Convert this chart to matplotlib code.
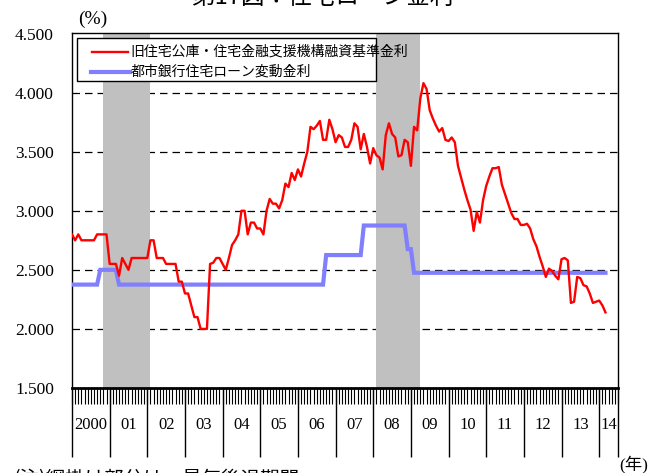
import numpy as np
import matplotlib
matplotlib.use('Agg')
import matplotlib.pyplot as plt
from matplotlib.patches import Rectangle
from matplotlib.lines import Line2D

plt.rcParams['font.family'] = ['Liberation Serif', 'Noto Sans CJK JP']

# monthly data, Jan 2000 (index 0) .. Mar 2014
red_label = '旧住宅公庫・住宅金融支援機構融資基準金利'
blue_label = '都市銀行住宅ローン変動金利'

red = [
    2.80, 2.75, 2.80, 2.75, 2.75, 2.75, 2.75, 2.75, 2.80, 2.80, 2.80, 2.80,  # 2000
    2.55, 2.55, 2.55, 2.45, 2.60, 2.55, 2.50, 2.60, 2.60, 2.60, 2.60, 2.60,  # 2001
    2.60, 2.75, 2.75, 2.60, 2.60, 2.60, 2.55, 2.55, 2.55, 2.55, 2.40, 2.40,  # 2002
    2.30, 2.30, 2.20, 2.10, 2.10, 2.00, 2.00, 2.00, 2.55, 2.56, 2.60, 2.60,  # 2003
    2.55, 2.50, 2.60, 2.71, 2.75, 2.80, 3.00, 3.00, 2.80, 2.90, 2.90, 2.85,  # 2004
    2.85, 2.80, 3.00, 3.10, 3.06, 3.06, 3.02, 3.09, 3.23, 3.20, 3.32, 3.26,  # 2005
    3.35, 3.29, 3.40, 3.50, 3.71, 3.69, 3.72, 3.76, 3.60, 3.60, 3.77, 3.69,  # 2006
    3.58, 3.64, 3.62, 3.54, 3.54, 3.60, 3.74, 3.71, 3.52, 3.65, 3.54, 3.40,  # 2007
    3.53, 3.47, 3.45, 3.35, 3.64, 3.74, 3.65, 3.62, 3.46, 3.47, 3.60, 3.58,  # 2008
    3.38, 3.71, 3.68, 3.95, 4.08, 4.03, 3.85, 3.78, 3.72, 3.67, 3.70, 3.60,  # 2009
    3.59, 3.62, 3.58, 3.38, 3.28, 3.18, 3.09, 3.01, 2.83, 2.99, 2.90, 3.09,  # 2010
    3.21, 3.29, 3.36, 3.36, 3.37, 3.22, 3.14, 3.06, 2.98, 2.93, 2.93, 2.88,  # 2011
    2.88, 2.89, 2.85, 2.76, 2.70, 2.61, 2.53, 2.44, 2.51, 2.49, 2.45, 2.42,  # 2012
    2.59, 2.60, 2.58, 2.22, 2.23, 2.44, 2.43, 2.37, 2.36, 2.30, 2.22, 2.23,  # 2013
    2.24, 2.20, 2.14,                                                        # 2014
]

blue = ([2.375] * 9 + [2.5] * 6 + [2.375] * 66 + [2.625] * 12
        + [2.875] * 14 + [2.675] * 2 + [2.475] * 62)

year_labels = ['2000', '01', '02', '03', '04', '05', '06', '07',
               '08', '09', '10', '11', '12', '13', '14']

# recession periods in month index (start, end)
recessions = [(10, 25), (97, 111)]

n_months = 174  # axis runs to mid 2014


def main():
    fig = plt.figure(figsize=(6.62, 4.73), dpi=100)
    ax = fig.add_axes([72 / 662, 85 / 473, 546 / 662, 354.5 / 473])

    x = np.arange(len(red))

    for s, e in recessions:
        ax.axvspan(s, e, color='#c0c0c0', lw=0, zorder=2)

    for yv in [2.0, 2.5, 3.0, 3.5, 4.0]:
        ax.axhline(yv, color='black', lw=0.9, dashes=(6, 4), zorder=1)

    ax.plot(np.arange(len(blue)), blue, color='#8080ff', lw=3.0, zorder=3,
            solid_joinstyle='miter')
    ax.plot(x, red, color='#ff0000', lw=1.7, zorder=4)

    ax.set_xlim(0, n_months)
    ax.set_ylim(1.5, 4.5)
    ax.set_yticks([1.5, 2.0, 2.5, 3.0, 3.5, 4.0, 4.5])
    ax.set_yticklabels(['%.3f' % v for v in ax.get_yticks()], fontsize=12.5)
    ax.tick_params(axis='y', length=0, pad=13)

    ax.set_xticks(np.arange(0, n_months + 1))
    ax.set_xticklabels([])
    ax.tick_params(axis='x', length=11.5, width=0.8, direction='out')

    for sp in ['left', 'top', 'right']:
        ax.spines[sp].set_linewidth(1.0)
    ax.spines['bottom'].set_linewidth(2.0)

    # year separators and labels below the axis
    seps = list(range(0, n_months, 12)) + [n_months]
    ax.vlines(seps, -0.195, 0, transform=ax.get_xaxis_transform(),
              colors='black', lw=1.0, clip_on=False)
    for k, lab in enumerate(year_labels):
        left = seps[k]
        right = seps[k + 1]
        ax.text((left + right) / 2, -0.104, lab, transform=ax.get_xaxis_transform(),
                ha='center', va='center', fontsize=12)

    # legend box drawn by hand
    ax.add_patch(Rectangle((0.0092, 0.8669), 0.5476, 0.1213, transform=ax.transAxes,
                           facecolor='white', edgecolor='black', lw=1.0, zorder=6))
    ax.add_line(Line2D([0.0366, 0.1026], [0.9487, 0.9487], transform=ax.transAxes,
                       color='#ff0000', lw=1.7, zorder=7))
    ax.add_line(Line2D([0.0348, 0.1062], [0.8914, 0.8914], transform=ax.transAxes,
                       color='#8080ff', lw=3.0, zorder=7))
    ax.text(0.1062, 0.9487, red_label, transform=ax.transAxes, fontsize=10,
            family='Noto Sans CJK JP', va='center', ha='left', zorder=8)
    ax.text(0.108, 0.8914, blue_label, transform=ax.transAxes, fontsize=10,
            family='Noto Sans CJK JP', va='center', ha='left', zorder=8)

    fig.text(78 / 662, 1 - 19 / 473, '(%)', fontsize=14, ha='left', va='center')
    fig.text(619 / 662, 1 - 464 / 473, '(年)', fontsize=12.5, ha='left', va='center')
    fig.text(322 / 662, 1.006, '第17図：住宅ローン金利', fontsize=17,
             family='Noto Sans CJK JP', ha='center', va='center')
    fig.text(13 / 662, 1 - 480 / 473, '(注)網掛け部分は、景気後退期間', fontsize=14,
             family='Noto Sans CJK JP', ha='left', va='center')

    fig.savefig('out.png', dpi=100)


if __name__ == '__main__':
    main()
